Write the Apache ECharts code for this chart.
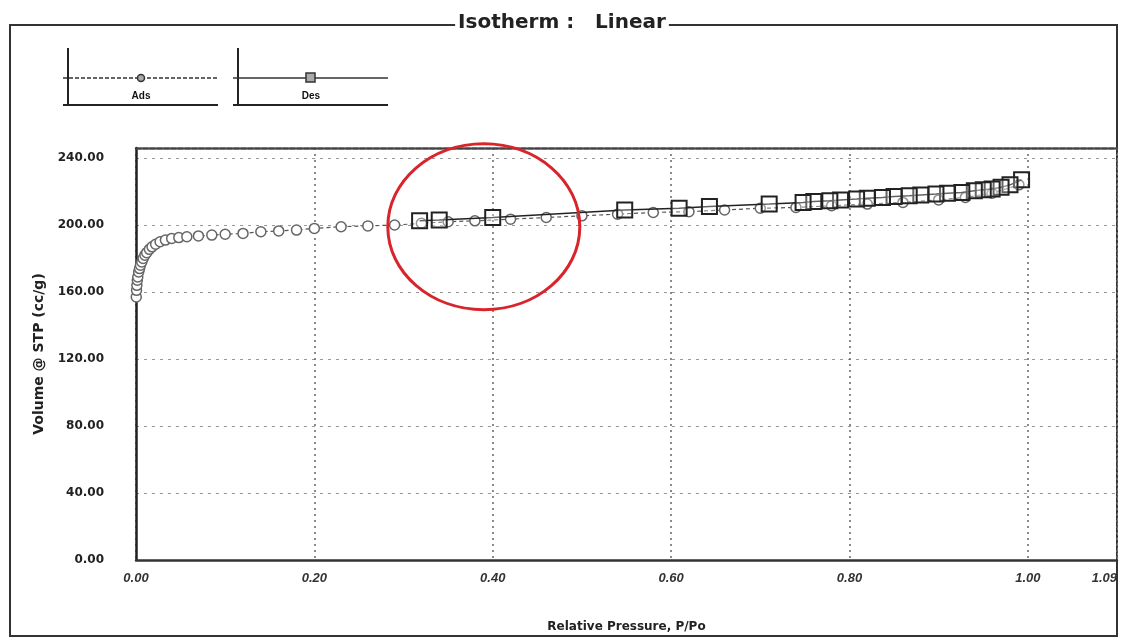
<!DOCTYPE html>
<html><head><meta charset="utf-8">
<script src="https://cdn.jsdelivr.net/npm/echarts@6/dist/echarts.min.js"></script>
<style>html,body{margin:0;padding:0;background:#fff}#c{width:1124px;height:639px}</style>
</head><body><div id="c"></div>
<script>
const titleText = 'Isotherm :   Linear';
const xTickLabels = ['0.00','0.20','0.40','0.60','0.80','1.00','1.09'];
const yTickLabels = ['0.00','40.00','80.00','120.00','160.00','200.00','240.00'];
const adsX = [0.0003,0.0006,0.001,0.0015,0.002,0.003,0.004,0.005,0.0065,0.008,0.01,0.012,0.015,0.018,0.022,0.027,0.033,0.04,0.048,0.057,0.07,0.085,0.1,0.12,0.14,0.16,0.18,0.2,0.23,0.26,0.29,0.32,0.35,0.38,0.42,0.46,0.5,0.54,0.58,0.62,0.66,0.7,0.74,0.78,0.82,0.86,0.9,0.93,0.96,0.99];
const adsY = [157,161,164,167,169,172,174,176,178,180,182,183.5,185.5,187,188.5,190,191,192,192.5,193,193.5,194,194.5,195,196,196.5,197,198,199,199.5,200,201,202,202.5,203.5,204.5,205.5,206.5,207.5,208,209,210,210.5,211.5,212.5,213.5,215,216.5,219,224];
const desX = [0.993,0.98,0.97,0.96,0.95,0.94,0.926,0.91,0.897,0.88,0.867,0.85,0.837,0.82,0.808,0.79,0.778,0.76,0.748,0.71,0.643,0.609,0.548,0.40,0.34,0.318];
const desY = [227,224,222.5,221.5,221,220.5,219.5,219,218.5,218,217.5,217,216.5,216,215.5,215,214.5,214,213.5,212.5,211,210,209,204.5,203,202.5];
const annotCenter = [0.39, 199];

const ads = adsX.map((x,i)=>[x,adsY[i]]);
const des = desX.map((x,i)=>[x,desY[i]]);
const font = '"Liberation Sans", Arial, sans-serif';
const wfont = '"DejaVu Sans", Verdana, sans-serif';
const chart = echarts.init(document.getElementById('c'), null, {renderer:'canvas'});
const xLab = v => { const i = Math.round(v/0.2); if (Math.abs(v-1.1)<1e-6) return xTickLabels[6]; return xTickLabels[i] || ''; };
const yLab = v => { const i = Math.round(v/40); return Math.abs(v-i*40)<1e-6 ? (yTickLabels[i]||'') : ''; };

const legendG = [];
function legendBox(x0, label, symbol, dashed){
  legendG.push({type:'line', shape:{x1:x0+5,y1:48,x2:x0+5,y2:106}, style:{stroke:'#222',lineWidth:2}, z:10});
  legendG.push({type:'line', shape:{x1:x0,y1:78,x2:x0+155,y2:78}, style:{stroke:'#333',lineWidth:1.5,lineDash:dashed?[4,2]:null}, z:10});
  legendG.push({type:'line', shape:{x1:x0,y1:105,x2:x0+155,y2:105}, style:{stroke:'#222',lineWidth:2}, z:10});
  if(symbol==='circle') legendG.push({type:'circle', shape:{cx:x0+78,cy:78,r:3.5}, style:{stroke:'#333',fill:'#aaa',lineWidth:1.5}, z:11});
  else legendG.push({type:'rect', shape:{x:x0+73,y:73,width:9,height:9}, style:{stroke:'#333',fill:'#aaa',lineWidth:1.5}, z:11});
  legendG.push({type:'text', x:x0+78, y:96, style:{text:label, font:'bold 10px '+font, fill:'#111', align:'center', verticalAlign:'middle'}, z:11});
}
legendBox(63,'Ads','circle',true);
legendBox(233,'Des','rect',false);

const frame = {type:'rect', shape:{x:10,y:25,width:1107,height:611}, style:{fill:null, stroke:'#333', lineWidth:2}, z:-1, silent:true};

const option = {
  backgroundColor:'#fff',
  animation:false,
  title:{text:titleText, left:'center', top:13, textStyle:{fontFamily:wfont, fontSize:20, fontWeight:'bold', color:'#222'}, backgroundColor:'#fff', padding:[0,3]},
  grid:{left:136, right:7, top:148, bottom:79, containLabel:false},
  xAxis:[{
    type:'value', min:0, max:1.1, interval:0.2,
    name:'Relative Pressure, P/Po', nameLocation:'middle', nameGap:61,
    nameTextStyle:{fontFamily:wfont, fontSize:12, fontWeight:'bold', color:'#222'},
    axisLine:{show:true, lineStyle:{color:'#333', width:2.5, type:[6,1]}},
    axisTick:{show:false},
    axisLabel:{formatter:xLab, showMaxLabel:true, alignMaxLabel:'right', margin:12, fontFamily:font, fontSize:13, fontWeight:'bold', color:'#333', fontStyle:'italic'},
    splitLine:{show:true, lineStyle:{color:'#666', width:1.5, type:[2,4]}}
  },{
    type:'value', min:0, max:1.1, position:'top',
    axisLine:{show:true, onZero:false, lineStyle:{color:'#444', width:2.5, type:[5,2]}},
    axisTick:{show:false}, axisLabel:{show:false}, splitLine:{show:false}
  }],
  yAxis:[{
    type:'value', min:0, max:246, interval:40,
    name:'Volume @ STP (cc/g)', nameLocation:'middle', nameGap:84, nameRotate:90,
    nameTextStyle:{fontFamily:wfont, fontSize:14, fontWeight:'bold', color:'#222'},
    axisLine:{show:true, lineStyle:{color:'#222', width:2.5}},
    axisTick:{show:false},
    axisLabel:{formatter:yLab, showMaxLabel:false, margin:32, fontFamily:wfont, fontSize:12, fontWeight:'bold', color:'#222'},
    splitLine:{show:true, lineStyle:{color:'#999', width:1.2, type:[3,5]}}
  },{
    type:'value', min:0, max:246, position:'right',
    axisLine:{show:true, onZero:false, lineStyle:{color:'#777', width:1, type:[2,3]}},
    axisTick:{show:false}, axisLabel:{show:false}, splitLine:{show:false}
  }],
  series:[{
    name:'Ads', type:'line', data:ads, xAxisIndex:0, yAxisIndex:0,
    symbol:'circle', symbolSize:10, showAllSymbol:true,
    lineStyle:{color:'#555', width:1.2, type:[4,3]},
    itemStyle:{color:'#fff', borderColor:'#666', borderWidth:1.5},
    z:3
  },{
    name:'Des', type:'line', data:des, xAxisIndex:0, yAxisIndex:0,
    symbol:'rect', symbolSize:15, showAllSymbol:true,
    lineStyle:{color:'#222', width:1.5},
    itemStyle:{color:'rgba(255,255,255,0.3)', borderColor:'#222', borderWidth:2},
    z:4
  }],
  graphic:[frame].concat(legendG)
};
chart.setOption(option);
const c = chart.convertToPixel({xAxisIndex:0, yAxisIndex:0}, annotCenter);
chart.setOption({graphic:[frame].concat(legendG).concat([
  {type:'ellipse', shape:{cx:c[0], cy:c[1], rx:96, ry:83}, style:{fill:null, stroke:'#d8242b', lineWidth:3}, z:20}
])});
</script></body></html>
